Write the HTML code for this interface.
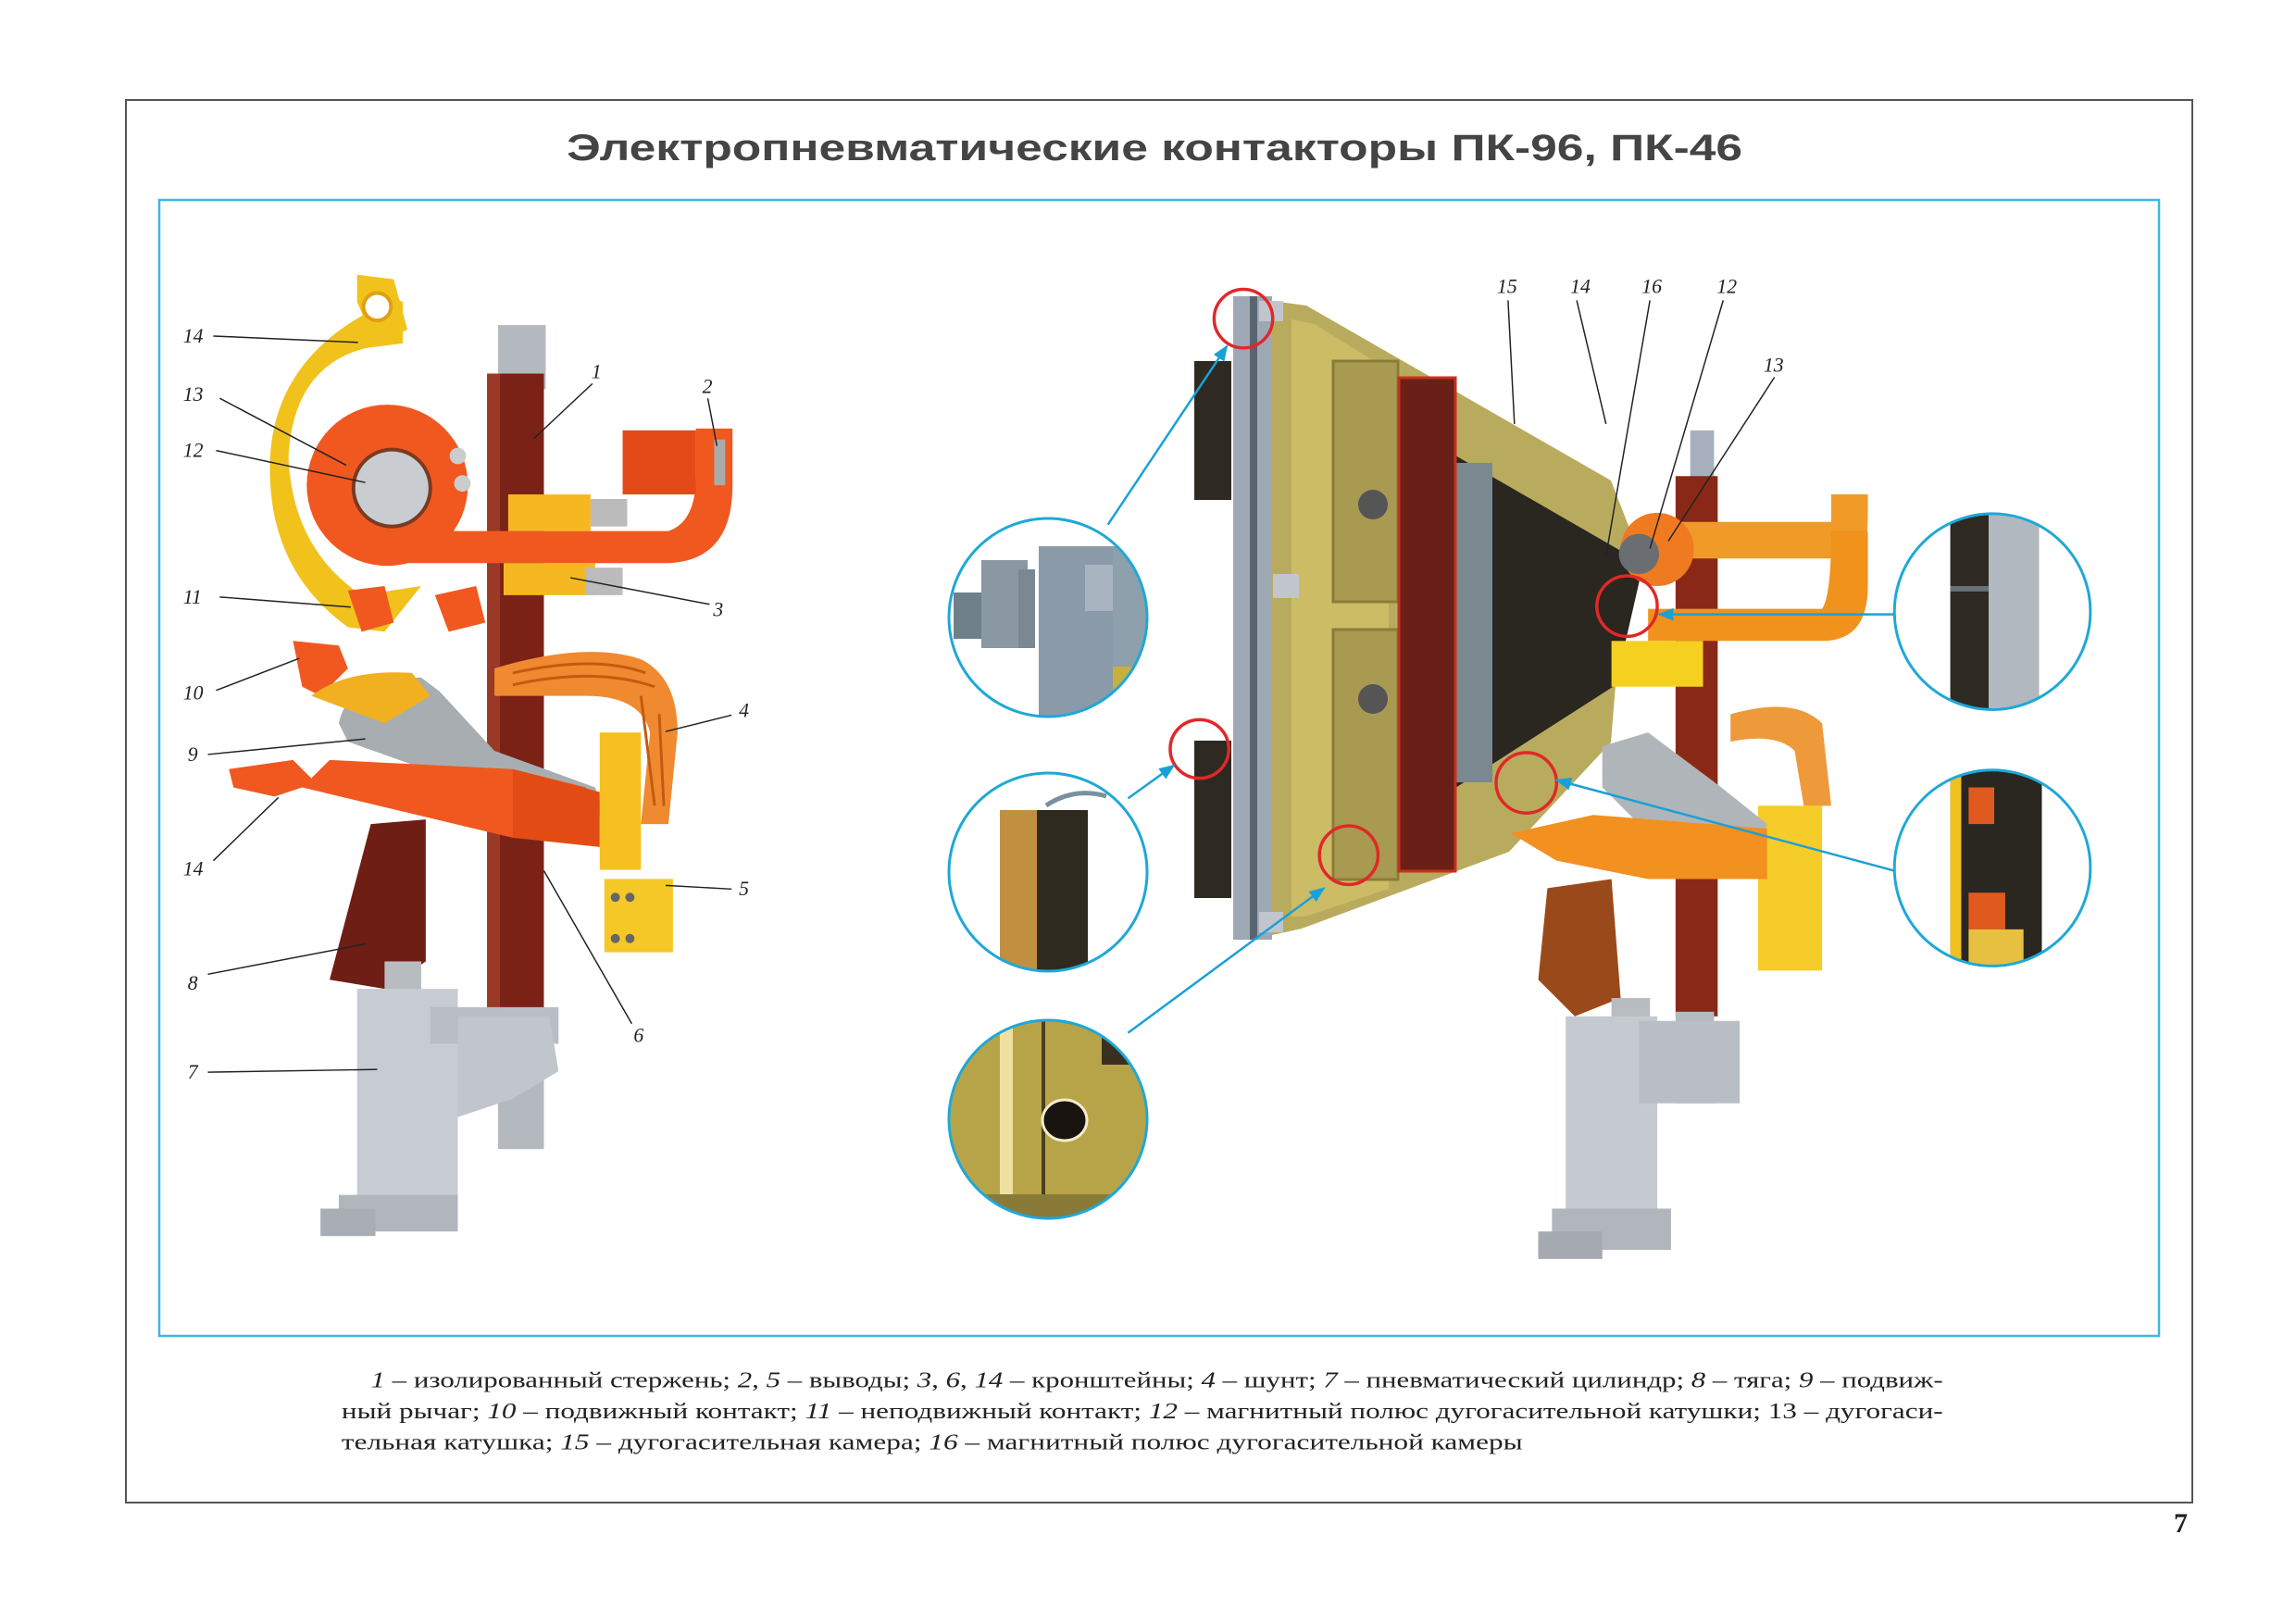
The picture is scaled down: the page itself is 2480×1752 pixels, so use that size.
<!DOCTYPE html>
<html><head><meta charset="utf-8"><style>
html,body{margin:0;padding:0;background:#fff;}
svg{display:block;}
</style></head><body>
<svg width="2480" height="1752" viewBox="0 0 2480 1752" xmlns="http://www.w3.org/2000/svg">
<defs>
<clipPath id="k1"><circle cx="1132" cy="667" r="106"/></clipPath>
<clipPath id="k2"><circle cx="1132" cy="942" r="106"/></clipPath>
<clipPath id="k3"><circle cx="1132" cy="1209" r="106"/></clipPath>
<clipPath id="k4"><circle cx="2176" cy="668" r="106"/></clipPath>
<clipPath id="k5"><circle cx="2176" cy="948" r="106"/></clipPath>
<marker id="ar" viewBox="0 0 10 10" refX="9" refY="5" markerWidth="7" markerHeight="7" orient="auto"><path d="M0,1 L10,5 L0,9 z" fill="#1aa0d8"/></marker>
</defs>
<!-- frames -->
<rect x="136" y="108" width="2232" height="1515" fill="none" stroke="#555" stroke-width="2"/>
<rect x="172" y="216" width="2160" height="1227" fill="none" stroke="#3bb8dc" stroke-width="2.5"/>
<text x="2348" y="1655" font-family="Liberation Serif, serif" font-weight="bold" font-size="30" fill="#222">7</text>

<!-- chamber (unscaled) -->
<g>
<rect x="1290" y="390" width="40" height="150" fill="#2e2a22"/>
<rect x="1290" y="800" width="40" height="170" fill="#2e2a22"/>
<rect x="1332" y="320" width="42" height="695" fill="#9ea8b4"/>
<rect x="1350" y="320" width="8" height="695" fill="#5a6470"/>
<polygon points="1374,325 1411,330 1740,519 1775,609 1745,740 1740,802 1630,920 1406,1003 1374,1010" fill="#b9ab5e"/>
<polygon points="1395,345 1420,350 1500,400 1500,960 1410,990 1395,990" fill="#d8c86a" opacity="0.6"/>
<rect x="1440" y="390" width="70" height="260" fill="#a89a50" stroke="#8a7c38" stroke-width="3"/>
<rect x="1440" y="680" width="70" height="270" fill="#a89a50" stroke="#8a7c38" stroke-width="3"/>
<circle cx="1483" cy="545" r="16" fill="#555"/><circle cx="1483" cy="755" r="16" fill="#555"/>
<polygon points="1572,492 1775,609 1745,740 1572,851" fill="#2a2620"/>
<rect x="1572" y="500" width="40" height="345" fill="#7a8890"/>
<rect x="1511" y="408" width="61" height="533" fill="#6a2016" stroke="#c83020" stroke-width="3"/>
<rect x="1375" y="620" width="28" height="26" fill="#c0c6cc"/>
<rect x="1360" y="985" width="26" height="22" fill="#c0c6cc"/>
<rect x="1360" y="325" width="26" height="22" fill="#c0c6cc"/>
</g>

<!-- left zoom circles (unscaled) -->
<g clip-path="url(#k1)">
<rect x="1020" y="560" width="230" height="220" fill="#fff"/>
<rect x="1122" y="590" width="80" height="190" fill="#8a9aa8"/>
<rect x="1172" y="610" width="30" height="50" fill="#a8b4c0"/>
<rect x="1202" y="590" width="40" height="190" fill="#8ea0ac"/>
<rect x="1202" y="720" width="40" height="60" fill="#c8b040"/>
<rect x="1030" y="640" width="45" height="50" fill="#6f8088"/>
<rect x="1060" y="605" width="50" height="95" fill="#8a98a4"/>
<rect x="1100" y="615" width="18" height="85" fill="#7a8894"/>
</g>
<g clip-path="url(#k2)">
<rect x="1020" y="830" width="230" height="220" fill="#fff"/>
<rect x="1080" y="875" width="55" height="180" fill="#c09040"/>
<rect x="1120" y="875" width="55" height="180" fill="#2e2a20"/>
<path d="M1130,870 Q1160,850 1195,860" stroke="#7890a0" stroke-width="5" fill="none"/>
</g>
<g clip-path="url(#k3)">
<rect x="1020" y="1100" width="230" height="220" fill="#b8a448"/>
<rect x="1080" y="1100" width="14" height="200" fill="#f0e0a0"/>
<rect x="1125" y="1100" width="4" height="190" fill="#4a4020"/>
<rect x="1190" y="1100" width="50" height="50" fill="#3a3020"/>
<ellipse cx="1150" cy="1210" rx="24" ry="22" fill="#1a1410" stroke="#f4eccc" stroke-width="3"/>
<rect x="1020" y="1290" width="230" height="30" fill="#8a7a38"/>
</g>
<g fill="none" stroke="#1ea8d8" stroke-width="3">
<circle cx="1132" cy="667" r="107"/>
<circle cx="1132" cy="942" r="107"/>
<circle cx="1132" cy="1209" r="107"/>
</g>

<g transform="scale(0.989)">
<text x="619" y="175" font-family="Liberation Sans, sans-serif" font-weight="bold" font-size="40" fill="#444" textLength="1284" lengthAdjust="spacingAndGlyphs">Электропневматические контакторы ПК-96, ПК-46</text>

<!-- LEFT DEVICE -->
<g>
<rect x="544" y="355" width="52" height="70" fill="#b4b9c0"/>
<rect x="532" y="408" width="62" height="712" fill="#7a2216"/>
<rect x="532" y="408" width="14" height="712" fill="#9a3a26"/>
<rect x="544" y="1115" width="50" height="140" fill="#b4b9c0"/>
<path d="M395,345 L420,320 L440,330 L440,375 L400,380 Q320,400 315,500 Q320,600 395,650 L460,640 L420,690 L380,685 Q290,620 295,500 Q300,400 395,345 z" fill="#f2c21c"/>
<path d="M390,300 L430,305 L445,360 L410,375 L390,330 z" fill="#f2c21c"/>
<circle cx="412" cy="335" r="15" fill="#fff" stroke="#e0a010" stroke-width="4"/>
<circle cx="423" cy="530" r="88" fill="#f05820"/>
<circle cx="428" cy="533" r="42" fill="#c9cdd2" stroke="#7a3a20" stroke-width="4"/>
<circle cx="500" cy="498" r="9" fill="#ccc"/><circle cx="505" cy="528" r="9" fill="#ccc"/>
<path d="M420,580 L730,580 Q760,570 760,520 L760,468 L800,468 L800,530 Q800,612 730,615 L420,615 z" fill="#f05820"/>
<rect x="680" y="470" width="80" height="70" fill="#e34a18"/>
<rect x="780" y="480" width="12" height="50" fill="#aaa"/>
<rect x="555" y="540" width="90" height="40" fill="#f5b820"/>
<rect x="550" y="615" width="100" height="35" fill="#f5b820"/>
<rect x="645" y="545" width="40" height="30" fill="#bbb"/><rect x="640" y="620" width="40" height="30" fill="#bbb"/>
<path d="M380,645 L420,640 L430,680 L395,690 z" fill="#f05820"/>
<path d="M475,650 L520,640 L530,680 L490,690 z" fill="#f05820"/>
<path d="M320,700 L370,705 L380,730 L350,760 L330,750 z" fill="#f05820"/>
<path d="M370,790 Q380,740 460,740 L480,755 L540,820 L650,860 L660,890 L620,900 L520,860 L380,810 z" fill="#a8adb2"/>
<path d="M340,760 Q380,730 450,735 L470,760 L420,790 z" fill="#f0b020"/>
<path d="M250,840 L320,830 L340,850 L360,830 L560,840 L640,860 L655,920 L560,915 L330,860 L300,870 L255,860 z" fill="#f05820"/>
<path d="M560,840 L655,865 L655,925 L560,915 z" fill="#e24c14"/>
<path d="M540,730 Q640,700 700,720 Q740,740 740,800 L730,900 L700,900 L710,800 Q700,760 640,760 L540,760 z" fill="#ef8a30"/>
<path d="M560,735 Q650,715 705,735 M560,748 Q650,728 715,750 M700,760 L715,880 M720,780 L725,880" stroke="#c45a10" stroke-width="3" fill="none"/>
<rect x="655" y="800" width="45" height="150" fill="#f5c020"/>
<rect x="660" y="960" width="75" height="80" fill="#f5c828"/>
<circle cx="672" cy="980" r="5" fill="#666"/><circle cx="688" cy="980" r="5" fill="#666"/><circle cx="672" cy="1025" r="5" fill="#666"/><circle cx="688" cy="1025" r="5" fill="#666"/>
<path d="M405,900 L465,895 L465,1050 L420,1080 L360,1070 z" fill="#6e1e14"/>
<rect x="420" y="1050" width="40" height="50" fill="#b8bcc0"/>
<rect x="390" y="1080" width="110" height="255" fill="#c6ccd2"/>
<rect x="470" y="1100" width="140" height="40" fill="#b8bec4"/>
<path d="M500,1110 L600,1110 L610,1170 L560,1200 L500,1220 z" fill="#c0c6cc"/>
<rect x="370" y="1305" width="130" height="40" fill="#b0b6bc"/>
<rect x="350" y="1320" width="60" height="30" fill="#a8aeb4"/>
</g>

<!-- RIGHT DEVICE (behind chamber parts, drawn in front of nothing) -->
<g>
<rect x="1846" y="470" width="26" height="60" fill="#a8b0c0"/>
<rect x="1830" y="520" width="46" height="590" fill="#8a2818"/>
<rect x="1830" y="1105" width="42" height="100" fill="#b4bac0"/>
<path d="M1790,610 L2030,610 Q2040,600 2040,560 L2040,540 L2000,540 L2000,570 L1790,570 z" fill="#f09a28"/>
<path d="M1800,665 L1990,665 Q2000,650 2000,580 L2040,580 L2040,640 Q2040,700 1990,700 L1800,700 z" fill="#f0921c"/>
<rect x="1760" y="700" width="100" height="50" fill="#f5d020"/>
<path d="M1890,780 Q1960,760 1990,790 L2000,880 L1970,880 L1960,820 Q1940,800 1890,810 z" fill="#ee9a3a"/>
<rect x="1920" y="880" width="70" height="180" fill="#f5cc28"/>
<path d="M1750,815 L1800,800 L1880,860 L1930,900 L1920,935 L1800,910 L1750,860 z" fill="#b0b5ba"/>
<path d="M1650,910 L1740,890 L1930,905 L1930,960 L1800,960 L1700,940 z" fill="#f29020"/>
<path d="M1690,970 L1760,960 L1770,1090 L1720,1110 L1680,1070 z" fill="#9a4a1a"/>
<rect x="1760" y="1090" width="42" height="50" fill="#b8bcc0"/>
<rect x="1710" y="1110" width="100" height="250" fill="#c4cacf"/>
<rect x="1790" y="1115" width="110" height="90" fill="#b8bec4"/>
<rect x="1695" y="1320" width="130" height="45" fill="#b0b6bc"/>
<rect x="1680" y="1345" width="70" height="30" fill="#a4aab0"/>
<circle cx="1810" cy="600" r="40" fill="#f07a20"/>
<circle cx="1790" cy="605" r="22" fill="#6a6e72"/>
</g>

<g clip-path="url(#k4)">
<rect x="2068" y="560" width="220" height="220" fill="#fff"/>
<rect x="2130" y="560" width="42" height="220" fill="#2e2a22"/>
<rect x="2172" y="560" width="55" height="220" fill="#b2b8bf"/>
<rect x="2130" y="640" width="42" height="6" fill="#6a7078"/>
</g>
<g clip-path="url(#k5)">
<rect x="2068" y="840" width="220" height="220" fill="#fff"/>
<rect x="2130" y="840" width="100" height="220" fill="#2a2620"/>
<rect x="2130" y="840" width="12" height="220" fill="#f0c020"/>
<rect x="2150" y="860" width="28" height="40" fill="#e05a20"/>
<rect x="2150" y="975" width="40" height="40" fill="#e05a20"/>
<rect x="2150" y="1015" width="60" height="45" fill="#e8c040"/>
</g>
<g fill="none" stroke="#1ea8d8" stroke-width="3">
<circle cx="2176" cy="668" r="107"/>
<circle cx="2176" cy="948" r="107"/>
</g>

<g fill="none" stroke="#e02828" stroke-width="3.5">
<circle cx="1358" cy="348" r="32"/>
<circle cx="1310" cy="818" r="32"/>
<circle cx="1473" cy="934" r="32"/>
<circle cx="1777" cy="662" r="33"/>
<circle cx="1667" cy="855" r="33"/>
</g>
<g stroke="#1aa0d8" stroke-width="2.5" fill="none" marker-end="url(#ar)">
<line x1="1210" y1="573" x2="1340" y2="378"/>
<line x1="1232" y1="872" x2="1282" y2="836"/>
<line x1="1232" y1="1128" x2="1446" y2="970"/>
<line x1="2069" y1="671" x2="1812" y2="671"/>
<line x1="2069" y1="951" x2="1700" y2="852"/>
</g>

<g stroke="#222" stroke-width="1.5" fill="none">
<line x1="233" y1="367" x2="391" y2="374"/>
<line x1="240" y1="435" x2="378" y2="508"/>
<line x1="236" y1="492" x2="399" y2="527"/>
<line x1="240" y1="652" x2="383" y2="663"/>
<line x1="236" y1="754" x2="327" y2="719"/>
<line x1="227" y1="824" x2="399" y2="807"/>
<line x1="233" y1="940" x2="304" y2="871"/>
<line x1="227" y1="1064" x2="399" y2="1031"/>
<line x1="227" y1="1171" x2="412" y2="1168"/>
<line x1="647" y1="419" x2="583" y2="479"/>
<line x1="773" y1="435" x2="783" y2="487"/>
<line x1="775" y1="660" x2="623" y2="631"/>
<line x1="799" y1="781" x2="727" y2="799"/>
<line x1="799" y1="971" x2="727" y2="967"/>
<line x1="690" y1="1118" x2="594" y2="951"/>
<line x1="1647" y1="328" x2="1654" y2="463"/>
<line x1="1722" y1="328" x2="1754" y2="463"/>
<line x1="1802" y1="328" x2="1754" y2="607"/>
<line x1="1882" y1="328" x2="1802" y2="599"/>
<line x1="1938" y1="412" x2="1822" y2="591"/>
</g>
<g font-family="Liberation Serif, serif" font-style="italic" font-size="22" fill="#222">
<text x="200" y="374">14</text>
<text x="200" y="438">13</text>
<text x="200" y="499">12</text>
<text x="200" y="659">11</text>
<text x="200" y="764">10</text>
<text x="205" y="831">9</text>
<text x="200" y="956">14</text>
<text x="205" y="1081">8</text>
<text x="205" y="1178">7</text>
<text x="646" y="413">1</text>
<text x="767" y="429">2</text>
<text x="779" y="673">3</text>
<text x="807" y="783">4</text>
<text x="807" y="978">5</text>
<text x="692" y="1138">6</text>
<text x="1635" y="320">15</text>
<text x="1715" y="320">14</text>
<text x="1793" y="320">16</text>
<text x="1875" y="320">12</text>
<text x="1926" y="406">13</text>
</g>

<g font-family="Liberation Serif, serif" font-size="25" fill="#222">
<text x="405" y="1515" textLength="1717" lengthAdjust="spacingAndGlyphs"><tspan font-style="italic">1</tspan> – изолированный стержень; <tspan font-style="italic">2</tspan>, <tspan font-style="italic">5</tspan> – выводы; <tspan font-style="italic">3</tspan>, <tspan font-style="italic">6</tspan>, <tspan font-style="italic">14</tspan> – кронштейны; <tspan font-style="italic">4</tspan> – шунт; <tspan font-style="italic">7</tspan> – пневматический цилиндр; <tspan font-style="italic">8</tspan> – тяга; <tspan font-style="italic">9</tspan>  – подвиж-</text>
<text x="373" y="1549" textLength="1749" lengthAdjust="spacingAndGlyphs">ный рычаг; <tspan font-style="italic">10</tspan> – подвижный контакт; <tspan font-style="italic">11</tspan> – неподвижный контакт; <tspan font-style="italic">12</tspan> – магнитный полюс дугогасительной катушки; 13 – дугогаси-</text>
<text x="373" y="1583" textLength="1290" lengthAdjust="spacingAndGlyphs">тельная катушка; <tspan font-style="italic">15</tspan> – дугогасительная камера; <tspan font-style="italic">16</tspan> – магнитный полюс дугогасительной камеры</text>
</g>
</g>
</svg>
</body></html>
